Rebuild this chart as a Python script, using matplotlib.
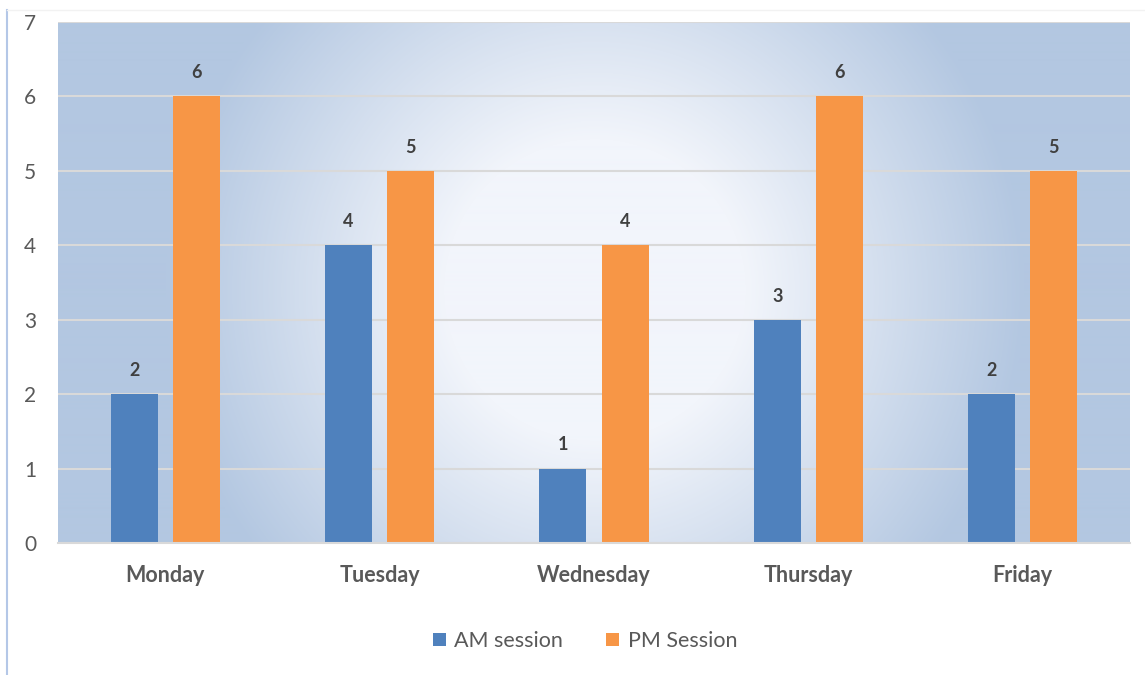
import numpy as np
import matplotlib.pyplot as plt
from matplotlib.colors import LinearSegmentedColormap
from matplotlib.lines import Line2D

plt.rcParams['font.family'] = ['Lato', 'DejaVu Sans']

# data
days = ['Monday', 'Tuesday', 'Wednesday', 'Thursday', 'Friday']
am_session = [2, 4, 1, 3, 2]
pm_session = [6, 5, 4, 6, 5]
series_names = ['AM session', 'PM Session']
y_ticks = [0, 1, 2, 3, 4, 5, 6, 7]

c_am = '#4f81bd'
c_pm = '#f79646'
txt = '#595959'

W, H = 1145, 675
fig = plt.figure(figsize=(W / 100, H / 100), dpi=100)
fig.patch.set_facecolor('white')

x0, x1, ytop, ybot = 58, 1130, 22, 543
ax = fig.add_axes([x0 / W, (H - ybot) / H, (x1 - x0) / W, (ybot - ytop) / H])

# radial gradient background (pixel space)
px = np.arange(x0, x1)
py = np.arange(ytop, ybot)
gx, gy = np.meshgrid(px, py)
r = np.hypot(gx - 595, gy - 290)
frac = np.clip((r - 150) / 280, 0, 1)
cmap = LinearSegmentedColormap.from_list('bg', ['#f2f5fb', '#b3c7e1'])
ax.imshow(frac, cmap=cmap, vmin=0, vmax=1, extent=[0, 1, 0, 1],
          transform=ax.transAxes, aspect='auto', zorder=0, interpolation='bilinear')

x = np.arange(len(days))
off, bw = 0.145, 0.22
b1 = ax.bar(x - off, am_session, bw, color=c_am, zorder=3, label=series_names[0])
b2 = ax.bar(x + off, pm_session, bw, color=c_pm, zorder=3, label=series_names[1])

for bars in (b1, b2):
    for b in bars:
        ax.annotate(f'{b.get_height():g}', (b.get_x() + b.get_width() / 2, b.get_height()),
                    xytext=(0, 17), textcoords='offset points', ha='center', va='center',
                    fontsize=13, fontweight='bold', color='#404040', zorder=5)

ax.set_xlim(-0.5, len(days) - 0.5)
ax.set_ylim(0, 7)
ax.set_yticks(y_ticks)
ax.set_xticks(x)
ax.set_xticklabels(days, fontsize=15.5, fontweight='bold', color=txt)
ax.tick_params(axis='y', labelsize=15, labelcolor=txt, length=0, pad=20)
ax.tick_params(axis='x', length=0, pad=16)
for t in ax.get_yticklabels():
    t.set_horizontalalignment('center')

ax.grid(axis='y', color='#d9d9d9', linewidth=1.5, zorder=1)
ax.set_axisbelow(False)
for s in ax.spines.values():
    s.set_visible(False)
ax.spines['bottom'].set_visible(True)
ax.spines['bottom'].set_color('#d9d9d9')
ax.spines['bottom'].set_linewidth(1.5)
ax.spines['bottom'].set_zorder(4)

leg = fig.legend(handles=[b1, b2], labels=series_names, loc='center',
                 bbox_to_anchor=(585 / W, (H - 641) / H), ncol=2, frameon=False,
                 fontsize=15.5, handlelength=0.6, handleheight=0.6,
                 handletextpad=0.4, columnspacing=2.0)
for t in leg.get_texts():
    t.set_color(txt)

# faint outer frame
fig.add_artist(Line2D([7 / W, 7 / W], [0, (H - 10) / H], color='#b4c7e7', lw=1.5))
fig.add_artist(Line2D([7 / W, 1], [(H - 10) / H, (H - 10) / H], color='#f2f2f2', lw=1))

fig.savefig('out.png', dpi=100)
